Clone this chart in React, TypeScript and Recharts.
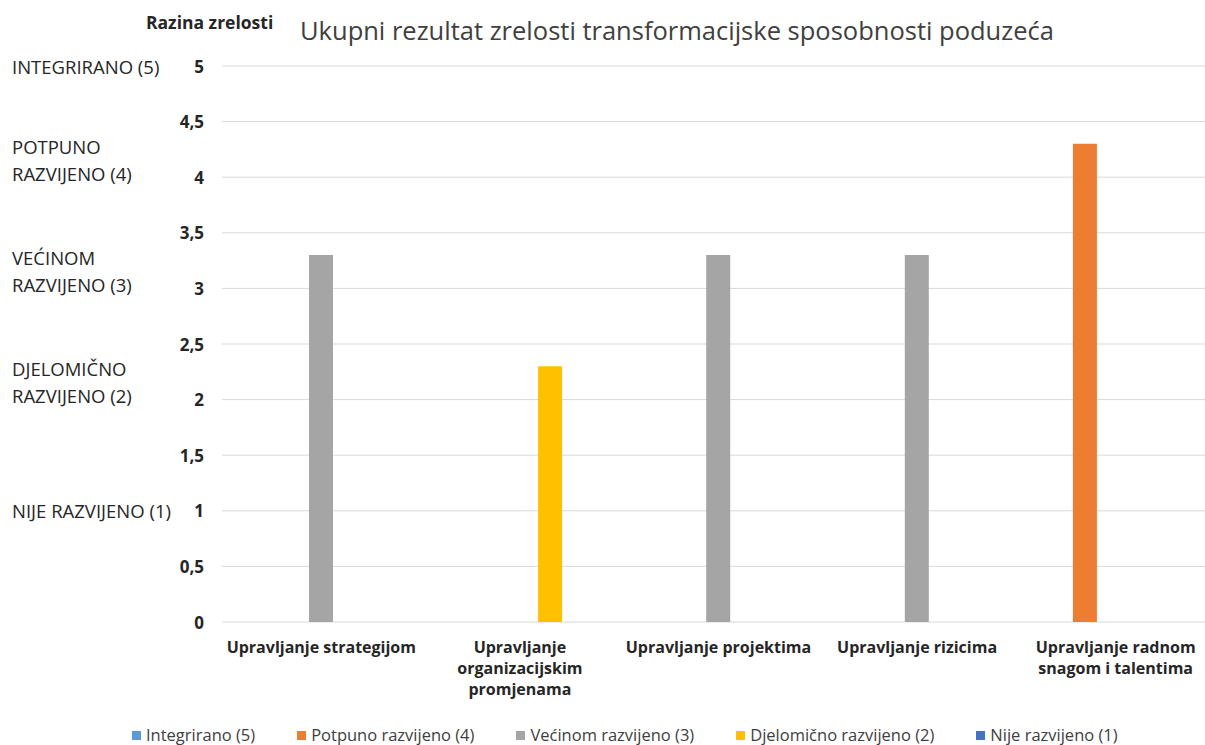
import { Bar, BarChart, CartesianGrid, Legend, Text, XAxis, YAxis } from "recharts";

const FONT = "'Open Sans', sans-serif";

const categories = [
  "Upravljanje strategijom",
  "Upravljanje organizacijskim promjenama",
  "Upravljanje projektima",
  "Upravljanje rizicima",
  "Upravljanje radnom snagom i talentima",
];

// one series per maturity level, only one category filled in each
const integrirano = [null, null, null, null, null];
const potpuno = [null, null, null, null, 4.3];
const vecinom = [3.3, null, 3.3, 3.3, null];
const djelomicno = [null, 2.3, null, null, null];
const nije = [null, null, null, null, null];

const seriesNames = [
  "Integrirano (5)",
  "Potpuno razvijeno (4)",
  "Većinom razvijeno (3)",
  "Djelomično razvijeno (2)",
  "Nije razvijeno (1)",
];
const seriesColors = ["#5B9BD5", "#ED7D31", "#A5A5A5", "#FFC000", "#4472C4"];
const seriesValues = [integrirano, potpuno, vecinom, djelomicno, nije];

const yTicks = [0, 0.5, 1, 1.5, 2, 2.5, 3, 3.5, 4, 4.5, 5];
const levelLabels = [
  ["NIJE RAZVIJENO (1)"],
  ["DJELOMIČNO", "RAZVIJENO (2)"],
  ["VEĆINOM", "RAZVIJENO (3)"],
  ["POTPUNO", "RAZVIJENO (4)"],
  ["INTEGRIRANO (5)"],
];

const data = categories.map((name, i) => {
  const row: Record<string, any> = { name };
  seriesValues.forEach((vals, j) => {
    row["s" + j] = vals[i];
  });
  return row;
});

function YTick(props: any) {
  const { y, payload } = props;
  const v = payload.value;
  const lines = Number.isInteger(v) && v > 0 ? levelLabels[v - 1] : null;
  return (
    <g>
      <text
        x={204}
        y={y}
        textAnchor="end"
        dominantBaseline="central"
        fontFamily={FONT}
        fontSize={17}
        fontWeight={700}
        fill="#262626"
      >
        {String(v).replace(".", ",")}
      </text>
      {lines &&
        lines.map((ln, k) => (
          <text
            key={k}
            x={12}
            y={y - (lines.length - 1 - k) * 27 - (lines.length > 1 ? 4 : 0)}
            dominantBaseline="central"
            fontFamily={FONT}
            fontSize={18.5}
            fill="#262626"
          >
            {ln}
          </text>
        ))}
    </g>
  );
}

function XTick(props: any) {
  const { x, payload } = props;
  return (
    <Text
      x={x}
      y={642}
      width={200}
      textAnchor="middle"
      verticalAnchor="start"
      lineHeight="21px"
      fill="#262626"
      style={{ fontFamily: FONT, fontSize: 16, fontWeight: 700 }}
    >
      {payload.value}
    </Text>
  );
}

function LegendBox() {
  return (
    <div
      style={{
        display: "flex",
        gap: 42,
        paddingLeft: 132,
        paddingTop: 10,
        height: 30,
        boxSizing: "border-box",
        fontFamily: FONT,
        fontSize: 16.5,
        color: "#404040",
        lineHeight: "18px",
      }}
    >
      {seriesNames.map((n, i) => (
        <div key={n} style={{ display: "flex", alignItems: "center" }}>
          <span
            style={{
              width: 9,
              height: 9,
              background: seriesColors[i],
              marginRight: 5,
              display: "inline-block",
            }}
          />
          {n}
        </div>
      ))}
    </div>
  );
}

export default function App() {
  return (
    <div
      style={{
        position: "absolute",
        left: 0,
        top: 0,
        width: 1205,
        height: 745,
        overflow: "hidden",
        background: "#fff",
      }}
    >
      <div
        style={{
          position: "absolute",
          left: 300,
          top: 12,
          fontFamily: FONT,
          fontSize: 25.5,
          lineHeight: "36px",
          color: "#404040",
          whiteSpace: "nowrap",
        }}
      >
        Ukupni rezultat zrelosti transformacijske sposobnosti poduzeća
      </div>
      <div
        style={{
          position: "absolute",
          left: 146,
          top: 10,
          fontFamily: FONT,
          fontSize: 17.5,
          fontWeight: 700,
          lineHeight: "24px",
          color: "#262626",
          whiteSpace: "nowrap",
        }}
      >
        Razina zrelosti
      </div>
      <BarChart
        width={1215}
        height={745}
        data={data}
        margin={{ top: 66, right: 0, left: 0, bottom: 0 }}
        barSize={24}
        barGap={6.5}
      >
        <CartesianGrid vertical={false} stroke="#D9D9D9" />
        <XAxis
          dataKey="name"
          axisLine={false}
          tickLine={false}
          height={93}
          interval={0}
          tick={<XTick />}
        />
        <YAxis
          width={222}
          domain={[0, 5]}
          ticks={yTicks}
          interval={0}
          axisLine={false}
          tickLine={false}
          tick={<YTick />}
        />
        <Legend verticalAlign="bottom" height={30} content={<LegendBox />} />
        {seriesNames.map((n, i) => (
          <Bar
            key={n}
            dataKey={"s" + i}
            name={n}
            fill={seriesColors[i]}
            isAnimationActive={false}
          />
        ))}
      </BarChart>
    </div>
  );
}
